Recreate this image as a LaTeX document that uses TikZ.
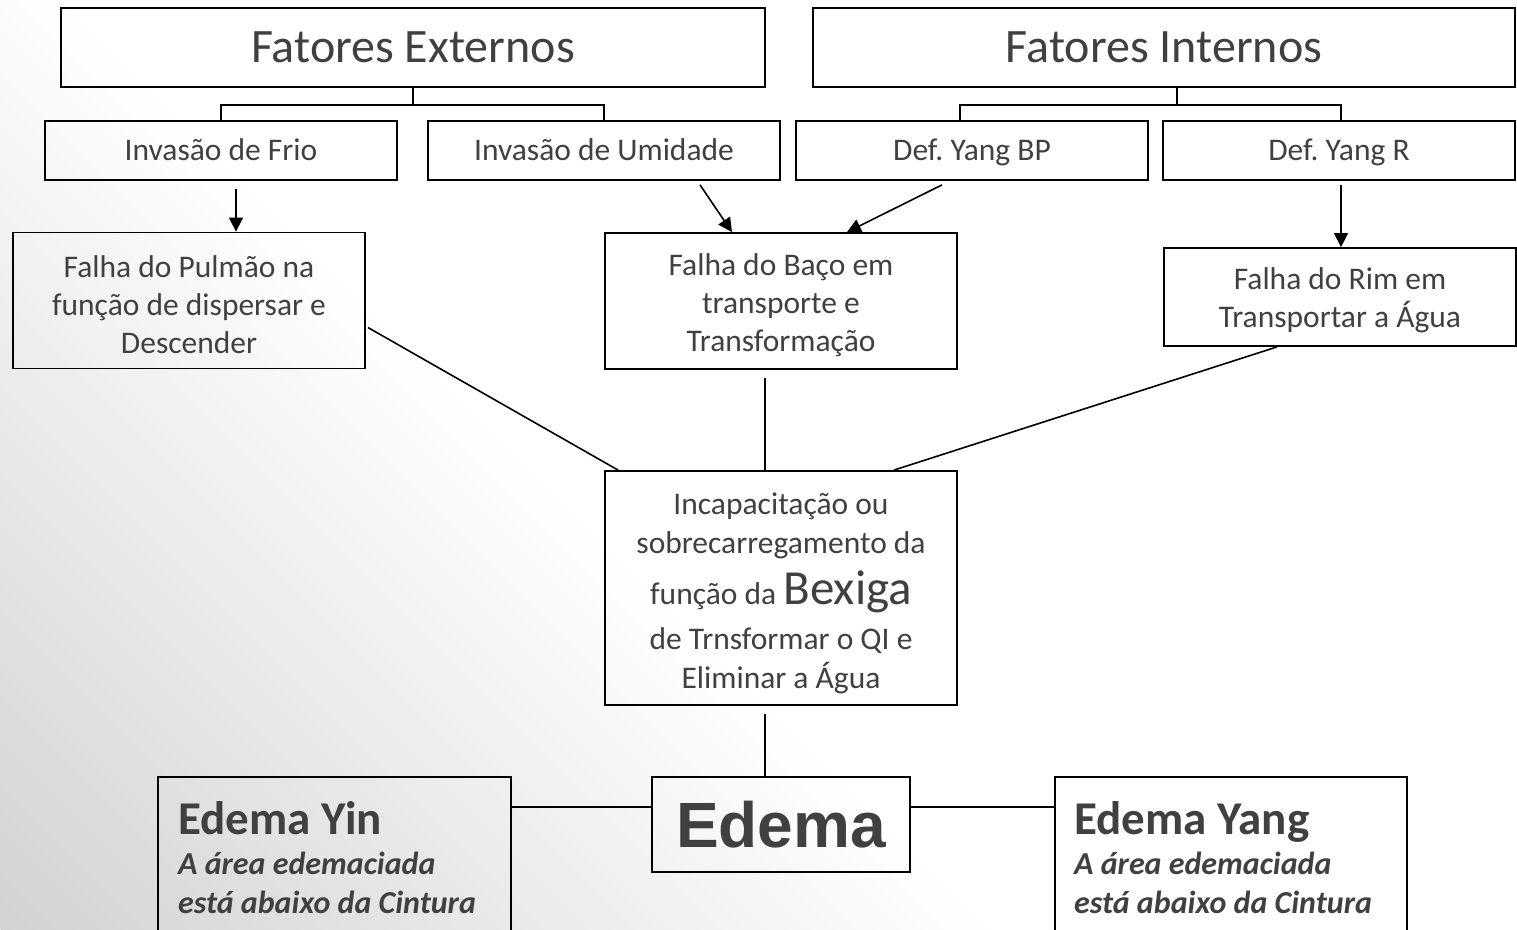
\documentclass[tikz,border=0pt]{standalone}
\usepackage{fontspec}
\setmainfont{Carlito}
\newfontfamily\arialfont{Liberation Sans}
\usetikzlibrary{arrows.meta,calc}
\definecolor{txt}{HTML}{404040}
\definecolor{bgcorner}{HTML}{D2D2D2}
\frenchspacing
\begin{document}
\begin{tikzpicture}[x=1pt,y=-1pt,
  box/.style={draw=black, line width=1.8pt, inner sep=0pt, text=txt, align=center, font=\fontsize{31.5}{38}\selectfont},
  rowtwo/.style={box, minimum width=352pt, minimum height=59pt, text height=24pt, text depth=5pt},
  link/.style={line width=1.6pt, draw=black},
  arr/.style={link, -{Triangle[length=14pt,width=14pt]}},
  yintext/.style={anchor=base west, inner sep=0pt, text=txt},
  headfont/.style={font=\fontsize{47}{52}\selectfont\bfseries},
  subfont/.style={font=\fontsize{32}{38}\selectfont\bfseries\itshape}]
\useasboundingbox (0,0) rectangle (1517,929);
\fill[white] (0,0) rectangle (1517,929);
\begin{scope}
\clip (0,0) rectangle (1517,929);
\shade[transform canvas={rotate around={-45:(0,929)}}, bottom color=bgcorner, top color=white] (-2000,929) rectangle (2000,222);
\end{scope}

% row 1
\node[box, minimum width=704pt, minimum height=79pt, font=\fontsize{48}{56}\selectfont] (fe) at (413,47.5) {Fatores Externos};
\node[box, minimum width=702pt, minimum height=79pt, font=\fontsize{48}{56}\selectfont] (fi) at (1164,47.5) {Fatores Internos};
% row 2
\node[rowtwo] (frio) at (221,150.5) {Invasão de Frio};
\node[rowtwo] (umid) at (604,150.5) {Invasão de Umidade};
\node[rowtwo] (bp) at (972,150.5) {Def. Yang BP};
\node[rowtwo] (yr) at (1339,150.5) {Def. Yang R};
% row 3
\node[box, minimum width=352pt, minimum height=136pt] (pulmao) at (189,300.5) {\rule{0pt}{30pt}Falha do Pulmão na\\função de dispersar e\\Descender};
\node[box, minimum width=352pt, minimum height=136pt] (baco) at (781,301) {\rule{0pt}{30pt}Falha do Baço em\\transporte e\\Transformação};
\node[box, minimum width=352pt, minimum height=98pt] (rim) at (1340,297) {\rule{0pt}{28pt}Falha do Rim em\\Transportar a Água};
% center
\node[box, minimum width=352pt, minimum height=234pt, font=\fontsize{31.5}{39}\selectfont] (incap) at (781,588) {\rule{0pt}{33pt}Incapacitação ou\\sobrecarregamento da\\[11pt]função da {\fontsize{49}{49}\selectfont Bexiga}\\[6pt]de Trnsformar o QI e\\Eliminar a Água};
\node[box, minimum width=258pt, minimum height=95pt, font=\fontsize{64}{70}\selectfont\arialfont\bfseries] (edema) at (781,824.5) {Edema};
\node[box, minimum width=353pt, minimum height=200pt] (yin) at (334.5,877) {};
\node[box, minimum width=352pt, minimum height=200pt] (yang) at (1231,877) {};

\node[yintext, headfont] (yinh) at (178,834) {Edema Yin};
\node[yintext, subfont] (yin1) at (178,874) {A área edemaciada};
\node[yintext, subfont] (yin2) at (178,913) {está abaixo da Cintura};
\node[yintext, headfont] (yangh) at (1074,834) {Edema Yang};
\node[yintext, subfont] (yang1) at (1074,874) {A área edemaciada};
\node[yintext, subfont] (yang2) at (1074,913) {está abaixo da Cintura};

% connectors
\draw[link] (fe.south) -- ++(0,17) coordinate (fej);
\draw[link] (frio.north) |- (fej) -| (umid.north);
\draw[link] ($(fi.south)+(13,0)$) -- ++(0,17) coordinate (fij);
\draw[link] ($(bp.north)+(-12,0)$) |- (fij) -| ($(yr.north)+(2,0)$);

\draw[arr] ($(frio.south)+(15,8)$) -- ($(pulmao.north)+(47,0)$);
\draw[arr] ($(umid.south)+(96,4)$) -- ($(baco.north)+(-49,0)$);
\draw[arr] ($(bp.south)+(-30,4)$) -- ($(baco.north)+(66,0)$);
\draw[arr] ($(yr.south)+(2,4)$) -- ($(rim.north)+(1,0)$);

\draw[link] ($(pulmao.east)+(2,27)$) -- ($(incap.north west)+(14,0)$);
\draw[link] ($(baco.south)+(-16,8)$) -- ($(incap.north)+(-16,0)$);
\draw[link] ($(rim.south)+(-63,0)$) -- ($(incap.north east)+(-64,0)$);
\draw[link] ($(incap.south)+(-16,8)$) -- ($(edema.north)+(-16,0)$);
\draw[link] ($(yin.north east)+(0,31)$) -- ($(edema.north west)+(0,31)$);
\draw[link] ($(edema.north east)+(0,31)$) -- ($(yang.north west)+(0,31)$);
\end{tikzpicture}
\end{document}
